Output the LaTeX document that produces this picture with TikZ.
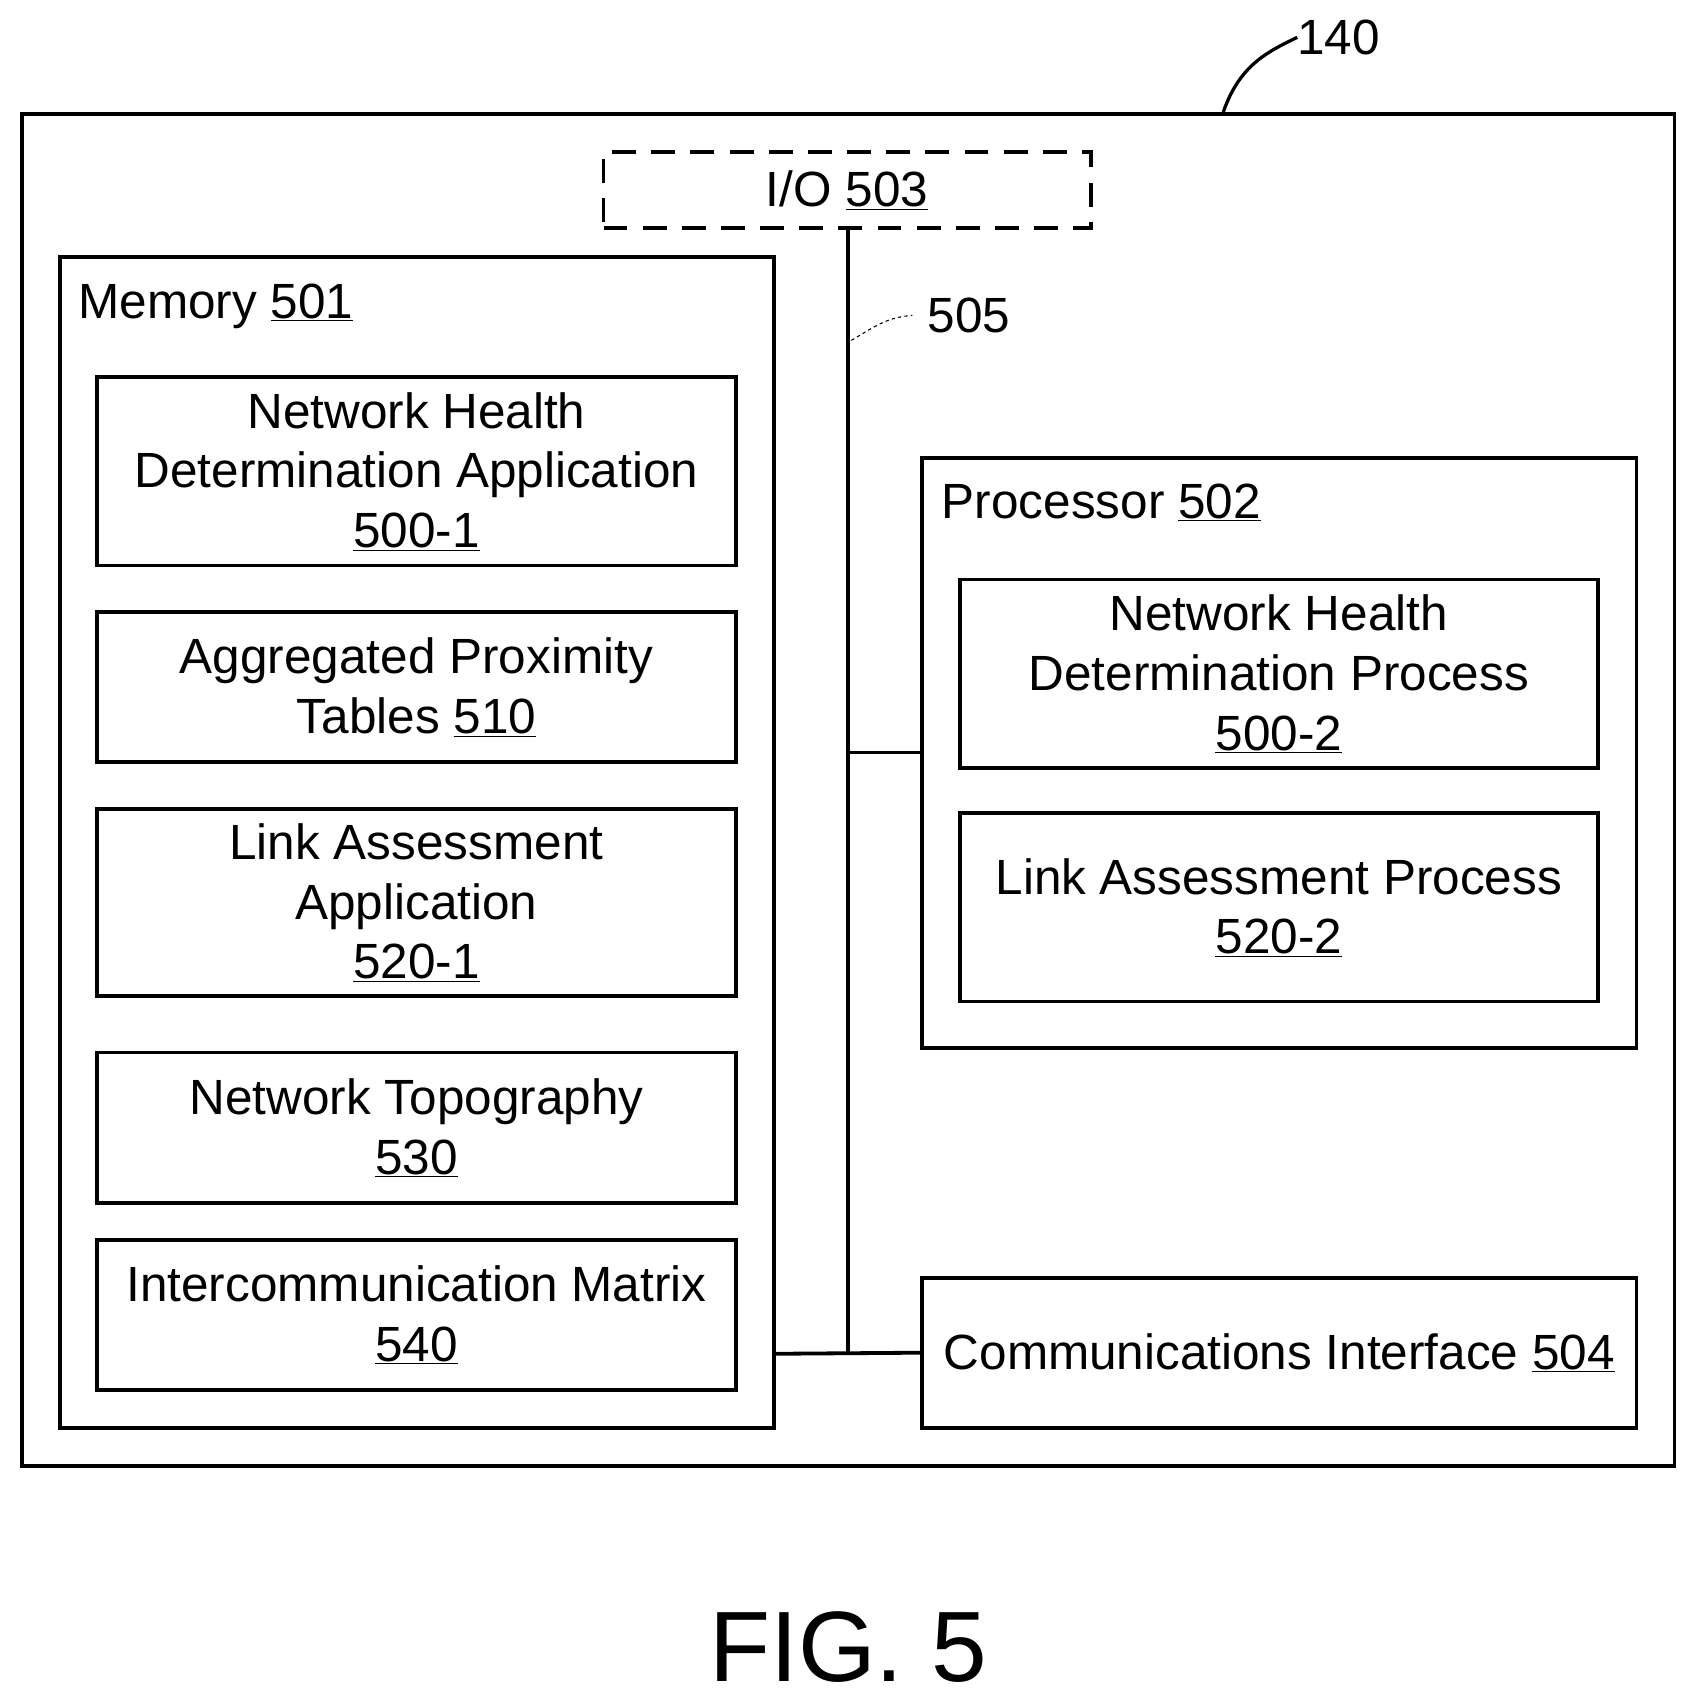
\documentclass[tikz,border=0pt]{standalone}
\usepackage{fontspec}
\setmainfont{Liberation Sans}
\begin{document}
\begin{tikzpicture}[x=1pt,y=-1pt,
  box/.style={draw,line width=3.5pt,minimum width=587pt,align=center,inner sep=0pt,font=\fontsize{45.5}{55}\selectfont},
  lbl/.style={font=\fontsize{45.5}{55}\selectfont,inner sep=0pt}]
\useasboundingbox (0,0) rectangle (1560,1568);
\draw[line width=3.5pt] (20,105) rectangle (1540,1348);
\node[lbl,anchor=base west] (n140) at (1193,50) {140};
\draw[line width=3pt] (1125,103) .. controls (1140,60) and (1165,48) .. (n140.west);
\node[draw,dash pattern=on 22pt off 14pt,line width=3.5pt,minimum width=448pt,minimum height=70pt,inner sep=0pt] (io) at (779,175) {};
\node[lbl] at (io.center) {I/O \underline{503}};
\coordinate (busb) at (780,1245);
\draw[line width=3.5pt] (io.south -| busb) -- (busb);
\node[lbl,anchor=west] (n505) at (853,290) {505};
\draw[dashed,line width=1pt] (783,313) .. controls (805,300) and (815,292) .. ([xshift=-14pt]n505.west);
% memory
\draw[line width=3.5pt] (55,236) rectangle (712,1313);
\node[lbl,anchor=base west] (mem) at (72,293) {Memory \underline{501}};
\node[box,minimum height=173pt] (b1) at (383,433.5) {Network Health\\Determination Application\\\underline{500-1}};
\node[box,minimum height=138pt] (b2) at (383,632) {Aggregated Proximity\\Tables \underline{510}};
\node[box,minimum height=172pt] (b3) at (383,830) {Link Assessment\\Application\\\underline{520-1}};
\node[box,minimum height=138pt] (b4) at (383,1037) {Network Topography\\\underline{530}};
\node[box,minimum height=138pt] (b5) at (383,1209) {Intercommunication Matrix\\\underline{540}};
% processor
\draw[line width=3.5pt] (848,421) rectangle (1505,964);
\node[lbl,anchor=base west] (proc) at (866,477) {Processor \underline{502}};
\node[box,minimum height=173pt] (p1) at (1176,619.5) {Network Health\\Determination Process\\\underline{500-2}};
\node[box,minimum height=173pt] (p2) at (1176,834.5) {Link Assessment Process\\\underline{520-2}};
\node[draw,line width=3.5pt,minimum width=657pt,minimum height=138pt,inner sep=0pt] (ci) at (1176.5,1244) {};
\node[lbl] at (ci.center) {Communications Interface \underline{504}};
\draw[line width=3.5pt] (712,1245) -- (ci.west);
\draw[line width=3.5pt] (780,692) -- (848,692);
\node[font=\fontsize{92}{100}\selectfont] at (780,1515) {FIG. 5};
\end{tikzpicture}
\end{document}
